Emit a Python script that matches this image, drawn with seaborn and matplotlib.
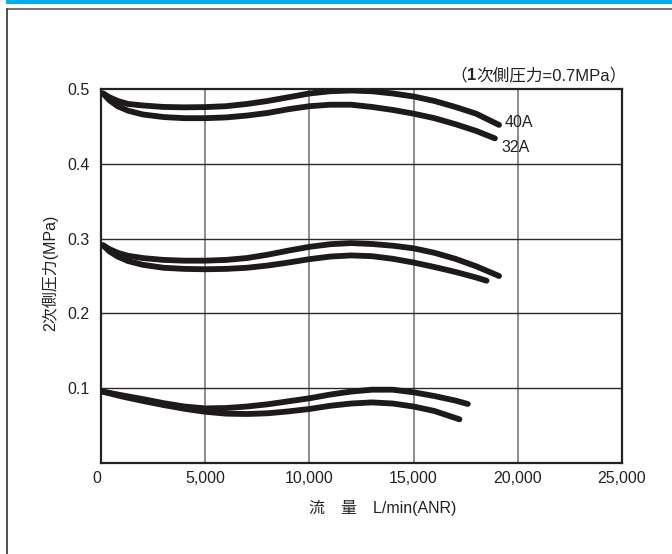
import numpy as np
import pandas as pd
import matplotlib
matplotlib.use("Agg")
import matplotlib.pyplot as plt
import seaborn as sns
from matplotlib.lines import Line2D
from matplotlib.patches import Rectangle

# ── Datos ─────────────────────────────────────────────────────────────────────

# Curvas superiores (arrancan en 0.5 MPa)
x_40a_05 = [100, 400, 800, 1300, 2000, 3000, 4000, 5000, 6000, 7000, 8000,
            9000, 10000, 11000, 12000, 13000, 14000, 15000, 16000, 17000, 18000, 19100]
y_40a_05 = [0.494, 0.489, 0.484, 0.480, 0.478, 0.476, 0.4755, 0.4758, 0.477, 0.480, 0.484,
            0.489, 0.494, 0.497, 0.498, 0.497, 0.494, 0.490, 0.484, 0.476, 0.467, 0.452]
x_32a_05 = [100, 400, 800, 1300, 2000, 3000, 4000, 5000, 6000, 7000, 8000,
            9000, 10000, 11000, 12000, 13000, 14000, 15000, 16000, 17000, 18000, 18900]
y_32a_05 = [0.494, 0.485, 0.477, 0.471, 0.466, 0.4625, 0.461, 0.461, 0.462, 0.4645, 0.468,
            0.473, 0.477, 0.479, 0.479, 0.476, 0.472, 0.467, 0.461, 0.453, 0.444, 0.434]

# Curvas medias (arrancan en 0.3 MPa)
x_40a_03 = [100, 400, 800, 1300, 2000, 3000, 4000, 5000, 6000, 7000, 8000,
            9000, 10000, 11000, 12000, 13000, 14000, 15000, 16000, 17000, 18000, 19100]
y_40a_03 = [0.291, 0.286, 0.281, 0.277, 0.274, 0.2715, 0.2705, 0.2705, 0.2715, 0.274, 0.2785,
            0.284, 0.289, 0.2925, 0.294, 0.2928, 0.2905, 0.287, 0.281, 0.273, 0.263, 0.250]
x_32a_03 = [100, 400, 800, 1300, 2000, 3000, 4000, 5000, 6000, 7000, 8000,
            9000, 10000, 11000, 12000, 13000, 14000, 15000, 16000, 17000, 18000, 18500]
y_32a_03 = [0.291, 0.283, 0.276, 0.270, 0.265, 0.261, 0.2595, 0.259, 0.2595, 0.261, 0.264,
            0.268, 0.2725, 0.276, 0.2775, 0.2765, 0.273, 0.268, 0.262, 0.2555, 0.248, 0.2437]

# Curvas inferiores (arrancan en 0.1 MPa)
x_40a_01 = [100, 1000, 2000, 3000, 4000, 5000, 6000, 7000, 8000, 9000,
            10000, 11000, 12000, 13000, 14000, 15000, 16000, 17000, 17600]
y_40a_01 = [0.0953, 0.0905, 0.0855, 0.080, 0.0755, 0.073, 0.0735, 0.0755, 0.0785, 0.0825,
            0.0865, 0.0915, 0.0955, 0.098, 0.098, 0.0945, 0.0895, 0.0835, 0.0789]
x_32a_01 = [100, 1000, 2000, 3000, 4000, 5000, 6000, 7000, 8000, 9000,
            10000, 11000, 12000, 13000, 14000, 15000, 16000, 17200]
y_32a_01 = [0.0953, 0.089, 0.083, 0.0775, 0.0725, 0.0685, 0.066, 0.0655, 0.0665, 0.069,
            0.0722, 0.0765, 0.0795, 0.081, 0.0795, 0.0755, 0.0695, 0.0584]

x_ticks = [0, 5000, 10000, 15000, 20000, 25000]
x_tick_labels = ["0", "5,000", "10,000", "15,000", "20,000", "25,000"]
y_ticks = [0.1, 0.2, 0.3, 0.4, 0.5]
y_tick_labels = ["0.1", "0.2", "0.3", "0.4", "0.5"]

curvas = [
    ("40A_0.5", x_40a_05, y_40a_05),
    ("32A_0.5", x_32a_05, y_32a_05),
    ("40A_0.3", x_40a_03, y_40a_03),
    ("32A_0.3", x_32a_03, y_32a_03),
    ("40A_0.1", x_40a_01, y_40a_01),
    ("32A_0.1", x_32a_01, y_32a_01),
]

filas = []
for nombre, xs, ys in curvas:
    for xv, yv in zip(xs, ys):
        filas.append({"curva": nombre, "flujo": xv, "presion": yv})
df = pd.DataFrame(filas)

# ── Figura ────────────────────────────────────────────────────────────────────

sns.set_theme(style="white")
plt.rcParams["font.family"] = ["Liberation Sans", "Noto Sans CJK JP", "DejaVu Sans"]
TXT = "#222222"

fig = plt.figure(figsize=(6.72, 5.54), dpi=100)
ax = fig.add_axes([101 / 672, 1 - 463 / 554, 521 / 672, 374 / 554])

# rejilla
for xv in x_ticks[1:-1]:
    ax.axvline(xv, color="#7a7a7a", lw=1.2, zorder=0)
for yv in y_ticks[:-1]:
    ax.axhline(yv, color="#2a2a2a", lw=1.0, zorder=0)

sns.lineplot(
    data=df, x="flujo", y="presion", hue="curva", units="curva",
    estimator=None, sort=False, legend=False,
    palette=["#1e1a1b"] * len(curvas), lw=4.2,
    solid_capstyle="round", solid_joinstyle="round", ax=ax, zorder=3,
)

ax.set_xlim(0, 25000)
ax.set_ylim(0, 0.5)
ax.set_xticks(x_ticks)
ax.set_xticklabels(x_tick_labels, fontsize=11.5, color=TXT)
ax.set_yticks(y_ticks)
ax.set_yticklabels(y_tick_labels, fontsize=11.5, color=TXT)
ax.get_xticklabels()[0].set_ha("right")
ax.tick_params(axis="x", length=0, pad=6)
ax.tick_params(axis="y", length=0, pad=8)
for lado in ["left", "bottom", "top", "right"]:
    ax.spines[lado].set_color(TXT)
    ax.spines[lado].set_linewidth(1.6)
ax.set_xlabel("")
ax.set_ylabel("")

# etiquetas de las curvas
ax.text(19350, 0.455, "40A", fontsize=11.5, va="center", ha="left", color=TXT)
ax.text(19200, 0.422, "32A", fontsize=11.5, va="center", ha="left", color=TXT)

# título (1次側圧力=0.7MPa)
t_main = ax.text(1.008, 1.016, "次側圧力=0.7MPa）", transform=ax.transAxes,
                 fontsize=12, ha="right", va="bottom", color=TXT)
t_uno = ax.annotate("1", xy=(0, 0), xycoords=t_main, fontsize=12,
                    fontweight="bold", ha="right", va="bottom", color=TXT)
ax.annotate("（", xy=(0, 0), xycoords=t_uno, fontsize=12,
            ha="right", va="bottom", color=TXT)

# ejes
fig.text(50 / 672, 1 - 273 / 554, "2次側圧力(MPa)", rotation=90,
         fontsize=11.5, ha="center", va="center", color=TXT)
fig.text(383 / 672, 1 - 508 / 554, "流　量　L/min(ANR)",
         fontsize=11.5, ha="center", va="center", color=TXT)

# marco
fig.add_artist(Rectangle((6 / 672, 1 - 3.5 / 554), 1, 3.5 / 554,
                         transform=fig.transFigure, color="#00aeef", lw=0))
fig.add_artist(Line2D([6.5 / 672, 1], [1 - 8.5 / 554] * 2,
                      transform=fig.transFigure, color="#777777", lw=1.5))
fig.add_artist(Line2D([6.8 / 672] * 2, [0, 1 - 8.5 / 554],
                      transform=fig.transFigure, color="#333333", lw=1.2))

fig.savefig("out.png", dpi=100)
